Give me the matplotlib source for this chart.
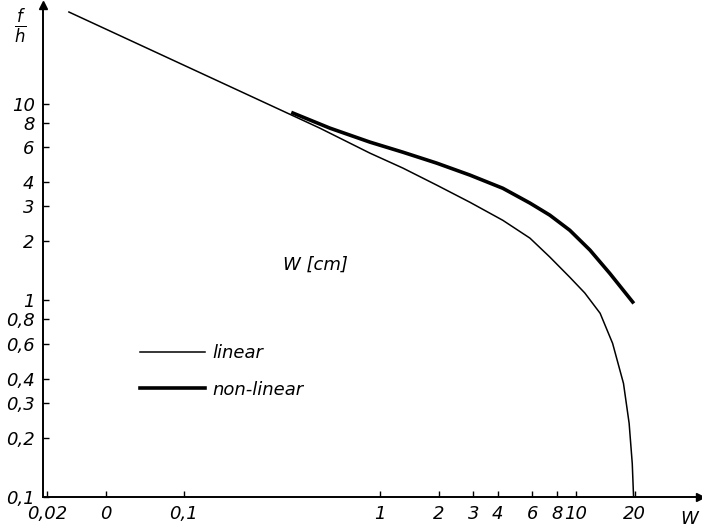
import matplotlib.pyplot as plt

# W [cm] and f/h (log-log)
w_linear = [0.0259, 0.494, 0.889, 1.31, 1.95, 2.88, 4.24, 5.83, 7.36, 9.31,
            11.1, 13.3, 15.4, 17.5, 18.7, 19.4, 19.7]
fh_linear = [29.2, 7.50, 5.60, 4.70, 3.85, 3.15, 2.55, 2.07, 1.66, 1.31,
             1.09, 0.859, 0.604, 0.378, 0.237, 0.148, 0.1]

w_nonlinear = [0.360, 0.556, 0.889, 1.31, 1.95, 2.88, 4.24, 5.83, 7.36, 9.31,
               11.8, 14.9, 19.5]
fh_nonlinear = [8.95, 7.50, 6.37, 5.66, 4.98, 4.33, 3.71, 3.12, 2.71, 2.27,
                1.80, 1.37, 0.98]

xticks = [0.02, 0.04, 0.1, 1, 2, 3, 4, 6, 8, 10, 20]
xtick_labels = ['0,02', '0', '0,1', '1', '2', '3', '4', '6', '8', '10', '20']
yticks = [0.1, 0.2, 0.3, 0.4, 0.6, 0.8, 1, 2, 3, 4, 6, 8, 10]
ytick_labels = ['0,1', '0,2', '0,3', '0,4', '0,6', '0,8', '1', '2', '3', '4', '6', '8', '10']

plt.rcParams['font.family'] = 'DejaVu Sans'
plt.rcParams['font.style'] = 'italic'
plt.rcParams['mathtext.fontset'] = 'dejavusans'

fig = plt.figure(figsize=(7.02, 5.32), dpi=100)
ax = fig.add_axes([43 / 702, 35 / 532, 657 / 702, 492 / 532])

ax.plot(w_linear, fh_linear, color='black', lw=1.1, label='linear')
ax.plot(w_nonlinear, fh_nonlinear, color='black', lw=2.6, label='non-linear')

ax.set_xscale('log')
ax.set_yscale('log')
ax.set_xlim(0.0191, 43)
ax.set_ylim(0.1, 31.7)

ax.spines['top'].set_visible(False)
ax.spines['right'].set_visible(False)
ax.spines['left'].set_linewidth(1.4)
ax.spines['bottom'].set_linewidth(1.4)

ax.set_xticks(xticks)
ax.set_xticklabels(xtick_labels)
ax.set_yticks(yticks)
ax.set_yticklabels(ytick_labels)
ax.minorticks_off()
ax.tick_params(direction='in', length=4, width=1, labelsize=13)
ax.tick_params(axis='x', pad=6)
ax.tick_params(axis='y', pad=6)

# axis arrows
ax.plot(1, 0, '>k', ms=6, transform=ax.transAxes, clip_on=False)
ax.plot(0, 1, '^k', ms=6, transform=ax.transAxes, clip_on=False)

fig.text(689 / 702, 1 - 519 / 532, 'W', fontsize=13, ha='center', va='center')
fig.text(20 / 702, 1 - 26 / 532, r'$\frac{f}{h}$', fontsize=17, ha='center', va='center')
ax.text(0.365, 0.4715, 'W [cm]', fontsize=13, transform=ax.transAxes, va='center')

ax.legend(loc='upper left', bbox_to_anchor=(0.148, 0.31), frameon=False,
          handlelength=3.6, handletextpad=0.4, labelspacing=1.0,
          borderpad=0, borderaxespad=0, fontsize=13)

fig.savefig('out.png', dpi=100)
